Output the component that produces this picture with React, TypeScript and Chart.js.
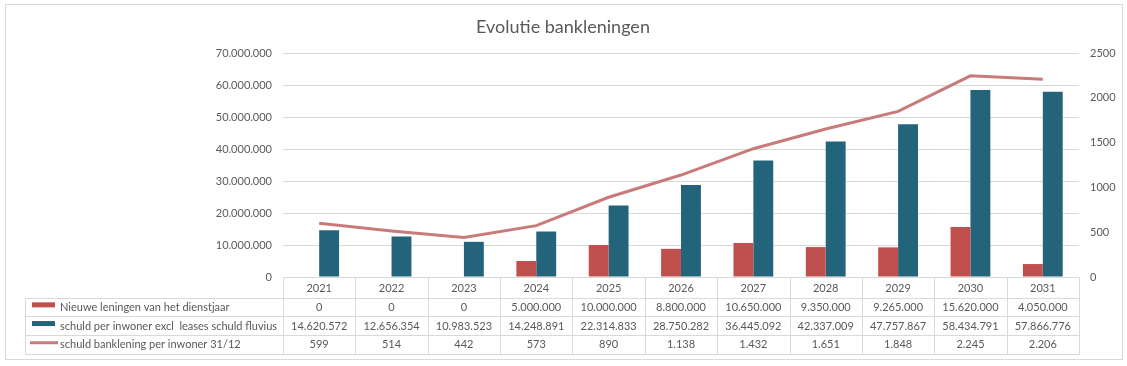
import React, { useEffect, useRef } from "react";
import { Chart, registerables } from "chart.js";

Chart.register(...registerables);

const chartTitle = "Evolutie bankleningen";
const years = ["2021", "2022", "2023", "2024", "2025", "2026", "2027", "2028", "2029", "2030", "2031"];
const nieuweLeningen = [0, 0, 0, 5000000, 10000000, 8800000, 10650000, 9350000, 9265000, 15620000, 4050000];
const schuldExclLeases = [14620572, 12656354, 10983523, 14248891, 22314833, 28750282, 36445092, 42337009, 47757867, 58434791, 57866776];
const schuldPerInwoner = [599, 514, 442, 573, 890, 1138, 1432, 1651, 1848, 2245, 2206];
const seriesLabels = [
  "Nieuwe leningen van het dienstjaar",
  "schuld per inwoner excl  leases schuld fluvius",
  "schuld banklening per inwoner 31/12",
];
const leftAxis = { min: 0, max: 70000000, step: 10000000 };
const rightAxis = { min: 0, max: 2500, step: 500 };

const RED = "#C0504D";
const TEAL = "#24647A";
const LINE = "#C97B7A";
const GRID = "#D9D9D9";
const TEXT = "#595959";
const FONT = "Lato";

const fmt = (n: number) => String(n).replace(/\B(?=(\d{3})+(?!\d))/g, ".");

const frame = {
  id: "frame",
  beforeDraw(chart: any) {
    const { ctx, width, height } = chart;
    ctx.save();
    ctx.fillStyle = "#fff";
    ctx.fillRect(0, 0, width, height);
    ctx.strokeStyle = GRID;
    ctx.lineWidth = 1;
    ctx.strokeRect(5.5, 4.5, 1117, 355);
    ctx.fillStyle = TEXT;
    ctx.font = `18px ${FONT}`;
    ctx.textAlign = "center";
    ctx.textBaseline = "middle";
    ctx.fillText(chartTitle, 563, 27);
    ctx.restore();
  },
};

const dataTable = {
  id: "dataTable",
  afterDraw(chart: any) {
    const { ctx, chartArea } = chart;
    const xs = chart.scales.x;
    const n = years.length;
    const left = Math.round(chartArea.left) + 0.5;
    const right = Math.round(chartArea.right) + 0.5;
    const colW = (chartArea.right - chartArea.left) / n;
    const top = Math.round(chartArea.bottom) + 0.5;
    const yearH = 20;
    const rowH = 18.7;
    const legendLeft = 25.5;
    const rowsTop = top + yearH;
    const bottom = rowsTop + 3 * rowH;
    const line = (x1: number, y1: number, x2: number, y2: number) => {
      ctx.beginPath();
      ctx.moveTo(x1, y1);
      ctx.lineTo(x2, y2);
      ctx.stroke();
    };
    ctx.save();
    ctx.strokeStyle = GRID;
    ctx.lineWidth = 1;
    line(left, top, right, top);
    for (let r = 0; r <= 3; r++) {
      const y = Math.round(rowsTop + r * rowH) + 0.5;
      line(legendLeft, y, right, y);
    }
    line(legendLeft, Math.round(rowsTop) + 0.5, legendLeft, Math.round(bottom) + 0.5);
    for (let i = 0; i <= n; i++) {
      const x = Math.round(chartArea.left + i * colW) + 0.5;
      line(x, top, x, Math.round(bottom) + 0.5);
    }
    ctx.fillStyle = TEXT;
    ctx.font = `11px ${FONT}`;
    ctx.textAlign = "center";
    ctx.textBaseline = "middle";
    const rows = [nieuweLeningen, schuldExclLeases, schuldPerInwoner];
    years.forEach((yr, i) => {
      const cx = xs.getPixelForValue(i);
      ctx.fillText(yr, cx, top + yearH / 2 + 0.5);
      rows.forEach((row, r) => {
        ctx.fillText(fmt(row[i]), cx, rowsTop + r * rowH + rowH / 2 + 0.5);
      });
    });
    ctx.textAlign = "left";
    seriesLabels.forEach((lab, r) => {
      const cy = rowsTop + r * rowH + rowH / 2;
      if (r === 0) {
        ctx.fillStyle = RED;
        ctx.fillRect(32, cy - 4.5, 23, 5);
      } else if (r === 1) {
        ctx.fillStyle = TEAL;
        ctx.fillRect(32, cy - 4.5, 23, 5);
      } else {
        ctx.strokeStyle = LINE;
        ctx.lineWidth = 3;
        line(30, cy - 1.5, 58, cy - 1.5);
      }
      ctx.fillStyle = TEXT;
      ctx.fillText(lab, 60, cy + 0.5);
    });
    ctx.restore();
  },
};

export default function App() {
  const ref = useRef<HTMLCanvasElement>(null);
  useEffect(() => {
    if (!ref.current) return;
    const chart = new Chart(ref.current, {
      type: "bar",
      data: {
        labels: years,
        datasets: [
          {
            type: "line",
            label: seriesLabels[2],
            data: schuldPerInwoner,
            yAxisID: "y1",
            borderColor: LINE,
            backgroundColor: LINE,
            borderWidth: 3,
            pointRadius: 0,
            tension: 0,
            order: 0,
          } as any,
          {
            label: seriesLabels[0],
            data: nieuweLeningen,
            backgroundColor: RED,
            yAxisID: "y",
            order: 1,
          },
          {
            label: seriesLabels[1],
            data: schuldExclLeases,
            backgroundColor: TEAL,
            yAxisID: "y",
            order: 1,
          },
        ],
      },
      options: {
        responsive: false,
        animation: false,
        devicePixelRatio: 1,
        layout: { padding: { top: 53, bottom: 89, left: 0, right: 0 } },
        datasets: { bar: { categoryPercentage: 0.55, barPercentage: 1 } },
        plugins: { legend: { display: false }, title: { display: false }, tooltip: { enabled: false } },
        scales: {
          x: { display: false, offset: true },
          y: {
            position: "left",
            min: leftAxis.min,
            max: leftAxis.max,
            afterFit: (s: any) => { s.width = 283; },
            ticks: {
              stepSize: leftAxis.step,
              padding: 11,
              color: TEXT,
              font: { family: FONT, size: 11 },
              callback: (v: any) => fmt(Number(v)),
            },
            grid: { color: GRID, drawTicks: false },
            border: { display: false },
          },
          y1: {
            position: "right",
            min: rightAxis.min,
            max: rightAxis.max,
            afterFit: (s: any) => { s.width = 48; },
            ticks: {
              stepSize: rightAxis.step,
              padding: 11,
              color: TEXT,
              font: { family: FONT, size: 11 },
              callback: (v: any) => String(v),
            },
            grid: { display: false, drawTicks: false },
            border: { display: false },
          },
        },
      },
      plugins: [frame, dataTable],
    });
    return () => chart.destroy();
  }, []);
  return (
    <div style={{ position: "fixed", left: 0, top: 0, width: 1127, height: 366, background: "#fff" }}>
      <canvas ref={ref} width={1127} height={366} style={{ display: "block" }} />
    </div>
  );
}
